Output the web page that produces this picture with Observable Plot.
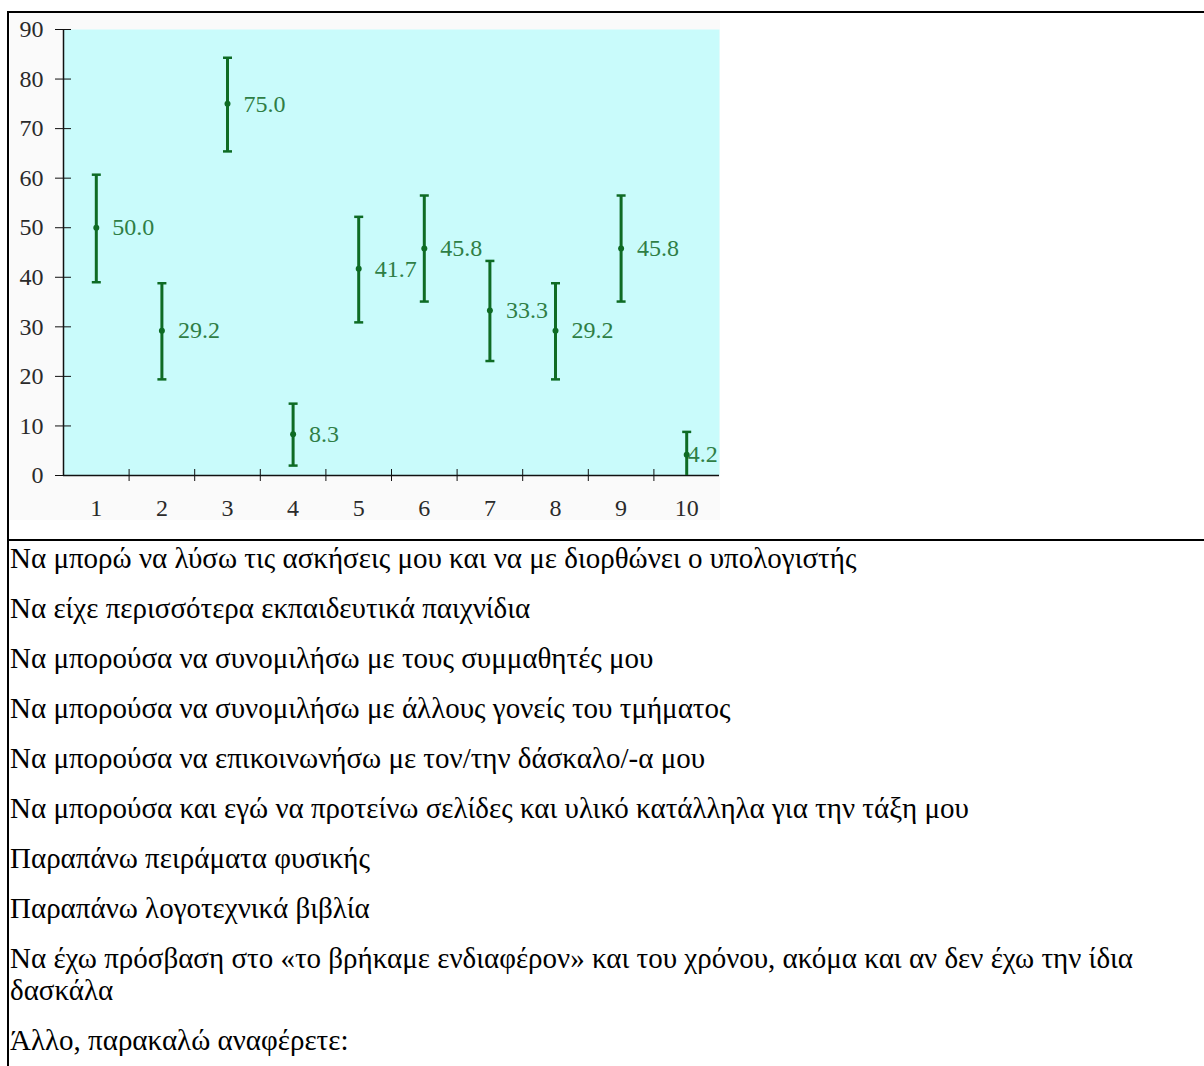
<!DOCTYPE html>
<html>
<head>
<meta charset="utf-8">
<script src="https://cdn.jsdelivr.net/npm/d3@7"></script>
<script src="https://cdn.jsdelivr.net/npm/@observablehq/plot@0.6"></script>
<style>
html, body { margin: 0; padding: 0; background: #fff; }
body { width: 1204px; height: 1066px; position: relative; overflow: hidden; font-family: "Liberation Serif", "Times New Roman", serif; }
#topline { position: absolute; left: 7px; top: 11px; width: 1197px; height: 2px; background: #000; }
#leftline { position: absolute; left: 7px; top: 11px; width: 2px; height: 1055px; background: #000; }
#midline { position: absolute; left: 7px; top: 539px; width: 1197px; height: 2px; background: #000; }
#chart { position: absolute; left: 10px; top: 13px; width: 710px; height: 507px; }
#items { position: absolute; left: 10px; top: 542px; width: 1190px; }
#items p { margin: 0 0 18px 0; font-size: 29px; line-height: 32px; color: #000; }
</style>
</head>
<body>
<div id="topline"></div>
<div id="leftline"></div>
<div id="midline"></div>
<div id="chart"></div>
<div id="items"></div>
<script>
// ---- data ----
const categories = ["1", "2", "3", "4", "5", "6", "7", "8", "9", "10"];
const means = [50.0, 29.2, 75.0, 8.3, 41.7, 45.8, 33.3, 29.2, 45.8, 4.2];
const upper = [60.7, 38.8, 84.3, 14.5, 52.2, 56.5, 43.3, 38.8, 56.5, 8.8];
const lower = [39.0, 19.4, 65.4, 2.0, 30.9, 35.1, 23.1, 19.4, 35.1, 0.0];
const yTicks = [0, 10, 20, 30, 40, 50, 60, 70, 80, 90];
const items = [
  "Να μπορώ να λύσω τις ασκήσεις μου και να με διορθώνει ο υπολογιστής",
  "Να είχε περισσότερα εκπαιδευτικά παιχνίδια",
  "Να μπορούσα να συνομιλήσω με τους συμμαθητές μου",
  "Να μπορούσα να συνομιλήσω με άλλους γονείς του τμήματος",
  "Να μπορούσα να επικοινωνήσω με τον/την δάσκαλο/-α μου",
  "Να μπορούσα και εγώ να προτείνω σελίδες και υλικό κατάλληλα για την τάξη μου",
  "Παραπάνω πειράματα φυσικής",
  "Παραπάνω λογοτεχνικά βιβλία",
  "Να έχω πρόσβαση στο «το βρήκαμε ενδιαφέρον» και του χρόνου, ακόμα και αν δεν έχω την ίδια δασκάλα",
  "Άλλο, παρακαλώ αναφέρετε:"
];

// ---- build ----
const rows = categories.map((c, i) => ({pos: i + 1, label: c, mean: means[i], hi: upper[i], lo: lower[i]}));
const positions = rows.map(d => d.pos);
const boundaries = positions.slice(1).map(p => p - 0.5);
const xDomain = [positions[0] - 0.5, positions[positions.length - 1] + 0.5];
const lastIndex = rows.length - 1;

const green = "#0e6b24";
const labelGreen = "#2f7e45";

const capSymbol = {
  draw(ctx, size) {
    const r = Math.sqrt(size / Math.PI);
    ctx.moveTo(-r, 0);
    ctx.lineTo(r, 0);
  }
};

const chart = Plot.plot({
  width: 710,
  height: 507,
  marginLeft: 53,
  marginTop: 16,
  marginBottom: 45,
  marginRight: 1,
  style: {background: "#fafafa", fontFamily: "'Liberation Serif', 'Times New Roman', serif", fontSize: "24px", color: "#111", overflow: "visible"},
  x: {type: "linear", domain: xDomain},
  y: {type: "linear", domain: [yTicks[0], yTicks[yTicks.length - 1]]},
  marks: [
    Plot.frame({fill: "#c9fbfb", stroke: null}),
    Plot.axisY({ticks: yTicks, tickSize: 16, dx: 8, tickFormat: () => "", label: null}),
    Plot.axisY({ticks: yTicks, tickSize: 0, tickPadding: 20, fill: "#2a2a2a", label: null}),
    Plot.axisX({ticks: boundaries, tickSize: 12, dy: -6, tickFormat: () => "", label: null}),
    Plot.axisX({ticks: positions, tickSize: 0, tickPadding: 23, fill: "#2a2a2a", tickFormat: p => categories[p - 1], label: null}),
    Plot.ruleX([xDomain[0]], {stroke: "#111", strokeWidth: 1.5}),
    Plot.ruleY([yTicks[0]], {stroke: "#111", strokeWidth: 1.5}),
    Plot.ruleX(rows, {x: "pos", y1: "lo", y2: "hi", stroke: green, strokeWidth: 3}),
    Plot.dot(rows, {x: "pos", y: "hi", symbol: capSymbol, r: 4.5, fill: "none", stroke: green, strokeWidth: 2.5}),
    Plot.dot(rows, {filter: d => d.lo > 0, x: "pos", y: "lo", symbol: capSymbol, r: 4.5, fill: "none", stroke: green, strokeWidth: 2.5}),
    Plot.dot(rows, {x: "pos", y: "mean", r: 3, fill: green}),
    Plot.text(rows, {filter: (d, i) => i < lastIndex, x: "pos", y: "mean", text: d => d.mean.toFixed(1), dx: 16, textAnchor: "start", fill: labelGreen, fontSize: 24}),
    Plot.text(rows, {filter: (d, i) => i === lastIndex, x: "pos", y: "mean", text: d => d.mean.toFixed(1), dx: 31, textAnchor: "end", fill: labelGreen, fontSize: 24})
  ]
});
document.getElementById("chart").appendChild(chart);

const list = document.getElementById("items");
for (const t of items) {
  const p = document.createElement("p");
  p.textContent = t;
  list.appendChild(p);
}
</script>
</body>
</html>
